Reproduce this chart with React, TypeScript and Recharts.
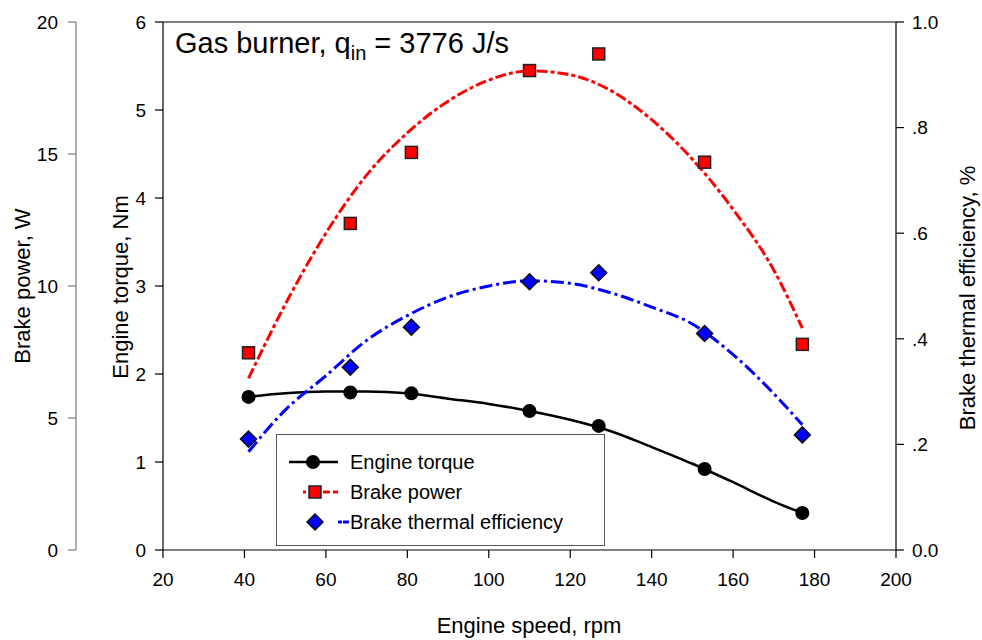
import React from 'react';
import {
  ComposedChart,
  Line,
  Scatter,
  XAxis,
  YAxis,
  ReferenceLine,
  Legend,
  Label,
  Customized,
} from 'recharts';

// Measured points
const speedRpm = [41, 66, 81, 110, 127, 153, 177];
const torqueNm = [1.74, 1.79, 1.78, 1.58, 1.41, 0.92, 0.42];
const brakePowerW = [7.47, 12.37, 15.06, 18.16, 18.79, 14.69, 7.79];
const thermalEff = [0.21, 0.346, 0.422, 0.508, 0.525, 0.41, 0.218];

// Fitted curves
const fitRpm = [41, 50, 60, 70, 80, 90, 100, 110, 120, 130, 140, 150, 160, 170, 177];
const torqueFitNm = [1.74, 1.78, 1.8, 1.8, 1.78, 1.72, 1.66, 1.58, 1.48, 1.35, 1.17, 0.98, 0.77, 0.55, 0.42];
const powerFitW = [6.5, 9.3, 12.0, 14.2, 15.8, 17.0, 17.8, 18.15, 18.0, 17.4, 16.3, 14.8, 12.9, 10.6, 8.4];
const effFit = [0.186, 0.265, 0.33, 0.397, 0.444, 0.479, 0.5, 0.51, 0.505, 0.487, 0.46, 0.428, 0.37, 0.296, 0.237];

// Ticks
const xTicks = [20, 40, 60, 80, 100, 120, 140, 160, 180, 200];
const torqueTicks = [0, 1, 2, 3, 4, 5, 6];
const powerTicks = [0, 5, 10, 15, 20];
const effTicks = [0, 0.2, 0.4, 0.6, 0.8, 1.0];
const effTickLabels = ['0.0', '.2', '.4', '.6', '.8', '1.0'];

const torquePts = speedRpm.map((rpm, i) => ({ rpm, torque: torqueNm[i] }));
const powerPts = speedRpm.map((rpm, i) => ({ rpm, power: brakePowerW[i] }));
const effPts = speedRpm.map((rpm, i) => ({ rpm, eff: thermalEff[i] }));
const torqueFit = fitRpm.map((rpm, i) => ({ rpm, torque: torqueFitNm[i] }));
const powerFit = fitRpm.map((rpm, i) => ({ rpm, power: powerFitW[i] }));
const effFitData = fitRpm.map((rpm, i) => ({ rpm, eff: effFit[i] }));

const FONT = '"Liberation Sans", Arial, Helvetica, sans-serif';
const RED_DASH = '11 3 4 3';
const BLUE_DASH = '13 4 3 4';

// axis ids (sorted order decides stacking: first = next to the plot)
const TORQUE = 'a1';
const POWER = 'a2';
const EFF = 'a3';

const CircleShape = (p: any) => <circle cx={p.cx} cy={p.cy} r={7} fill="#000" />;
const SquareShape = (p: any) => (
  <rect x={p.cx - 6} y={p.cy - 6} width={12} height={12} fill="#ff0000" stroke="#222" strokeWidth={1.5} />
);
const DiamondShape = (p: any) => (
  <polygon
    points={`${p.cx},${p.cy - 8} ${p.cx + 8},${p.cy} ${p.cx},${p.cy + 8} ${p.cx - 8},${p.cy}`}
    fill="#0000ff"
    stroke="#111"
    strokeWidth={1.5}
  />
);

const LegendBox = () => (
  <svg width={327} height={110} style={{ display: 'block' }}>
    <g fontFamily={FONT} fontSize={20} fill="#000">
      <line x1={12} y1={27} x2={61} y2={27} stroke="#000" strokeWidth={2.5} />
      <circle cx={36} cy={27} r={7} fill="#000" />
      <text x={73} y={27} dominantBaseline="central">Engine torque</text>

      <line x1={26} y1={57} x2={29} y2={57} stroke="#ff0000" strokeWidth={3} />
      <line x1={46} y1={57} x2={53} y2={57} stroke="#ff0000" strokeWidth={3} />
      <line x1={56} y1={57} x2={61} y2={57} stroke="#ff0000" strokeWidth={3} />
      <rect x={32} y={51} width={12} height={12} fill="#ff0000" stroke="#222" strokeWidth={1.5} />
      <text x={73} y={57} dominantBaseline="central">Brake power</text>

      <polygon points="38,79 46,87 38,95 30,87" fill="#0000ff" stroke="#111" strokeWidth={1.5} />
      <line x1={61} y1={87} x2={65} y2={87} stroke="#0000ff" strokeWidth={3} />
      <line x1={66} y1={87} x2={72} y2={87} stroke="#0000ff" strokeWidth={3} />
      <text x={73} y={87} dominantBaseline="central">Brake thermal efficiency</text>
    </g>
  </svg>
);

const Title = () => (
  <text x={175} y={53} fontSize={29} fontFamily={FONT} fill="#000">
    Gas burner, q
    <tspan dy={7} fontSize={20}>in</tspan>
    <tspan dy={-7}> = 3776 J/s</tspan>
  </text>
);

const rotatedTitle = (x: number, y: number, text: string) => () => (
  <text
    transform={`translate(${x},${y}) rotate(-90)`}
    textAnchor="middle"
    dominantBaseline="central"
    fontSize={22}
    fontFamily={FONT}
    fill="#000"
  >
    {text}
  </text>
);

const xTitle = () => (
  <text x={529} y={625} textAnchor="middle" dominantBaseline="central" fontSize={22} fontFamily={FONT} fill="#000">
    Engine speed, rpm
  </text>
);

export default function App() {
  const tickStyle = { fontSize: 19, fill: '#000', fontFamily: FONT };
  return (
    <div style={{ width: 982, height: 640, position: 'relative' }}>
      <style>{`body{margin:0}`}</style>
      <ComposedChart width={982} height={640} margin={{ top: 22, right: 0, bottom: 0, left: 0 }}>
        <XAxis
          type="number"
          dataKey="rpm"
          domain={[20, 200]}
          ticks={xTicks}
          interval={0}
          allowDataOverflow
          height={90}
          tickSize={8}
          tickMargin={15}
          tick={tickStyle}
          axisLine={{ stroke: '#000', strokeWidth: 1.2 }}
          tickLine={{ stroke: '#000', strokeWidth: 1.2 }}
        >
          <Label content={xTitle} />
        </XAxis>
        <YAxis
          yAxisId={TORQUE}
          orientation="left"
          type="number"
          domain={[0, 6]}
          ticks={torqueTicks}
          interval={0}
          width={87}
          tickSize={8}
          tickMargin={9}
          tick={tickStyle}
          axisLine={{ stroke: '#000', strokeWidth: 1.2 }}
          tickLine={{ stroke: '#000', strokeWidth: 1.2 }}
        >
          <Label content={rotatedTitle(120, 287, 'Engine torque, Nm')} />
        </YAxis>
        <YAxis
          yAxisId={POWER}
          orientation="left"
          type="number"
          domain={[0, 20]}
          ticks={powerTicks}
          interval={0}
          width={76}
          tickSize={8}
          tickMargin={10}
          tick={tickStyle}
          axisLine={{ stroke: '#777', strokeWidth: 1.2 }}
          tickLine={{ stroke: '#777', strokeWidth: 1.2 }}
        >
          <Label content={rotatedTitle(22, 286, 'Brake power, W')} />
        </YAxis>
        <YAxis
          yAxisId={EFF}
          orientation="right"
          type="number"
          domain={[0, 1]}
          ticks={effTicks}
          interval={0}
          width={86}
          tickSize={8}
          tickMargin={8}
          tick={tickStyle}
          tickFormatter={(v: number) => effTickLabels[effTicks.indexOf(v)] ?? String(v)}
          axisLine={{ stroke: '#000', strokeWidth: 1.2 }}
          tickLine={{ stroke: '#000', strokeWidth: 1.2 }}
        >
          <Label content={rotatedTitle(967, 298, 'Brake thermal efficiency, %')} />
        </YAxis>

        <ReferenceLine yAxisId={TORQUE} y={6} stroke="#000" strokeWidth={1.2} ifOverflow="visible" />

        <Line
          data={torqueFit}
          yAxisId={TORQUE}
          dataKey="torque"
          type="monotone"
          stroke="#000"
          strokeWidth={2.5}
          dot={false}
          activeDot={false}
          isAnimationActive={false}
          legendType="none"
        />
        <Line
          data={powerFit}
          yAxisId={POWER}
          dataKey="power"
          type="monotone"
          stroke="#ff0000"
          strokeWidth={3}
          strokeDasharray={RED_DASH}
          dot={false}
          activeDot={false}
          isAnimationActive={false}
          legendType="none"
        />
        <Line
          data={effFitData}
          yAxisId={EFF}
          dataKey="eff"
          type="monotone"
          stroke="#0000ff"
          strokeWidth={3}
          strokeDasharray={BLUE_DASH}
          dot={false}
          activeDot={false}
          isAnimationActive={false}
          legendType="none"
        />

        <Scatter name="Engine torque" data={torquePts} yAxisId={TORQUE} dataKey="torque" shape={CircleShape} isAnimationActive={false} />
        <Scatter name="Brake power" data={powerPts} yAxisId={POWER} dataKey="power" shape={SquareShape} isAnimationActive={false} />
        <Scatter name="Brake thermal efficiency" data={effPts} yAxisId={EFF} dataKey="eff" shape={DiamondShape} isAnimationActive={false} />

        <Legend
          layout="vertical"
          align="center"
          verticalAlign="middle"
          content={LegendBox}
          wrapperStyle={{
            position: 'absolute',
            left: 276,
            top: 434,
            width: 329,
            height: 112,
            border: '1px solid #555',
            background: '#fff',
            boxSizing: 'border-box',
          }}
        />
        <Customized component={Title} />
      </ComposedChart>
    </div>
  );
}
